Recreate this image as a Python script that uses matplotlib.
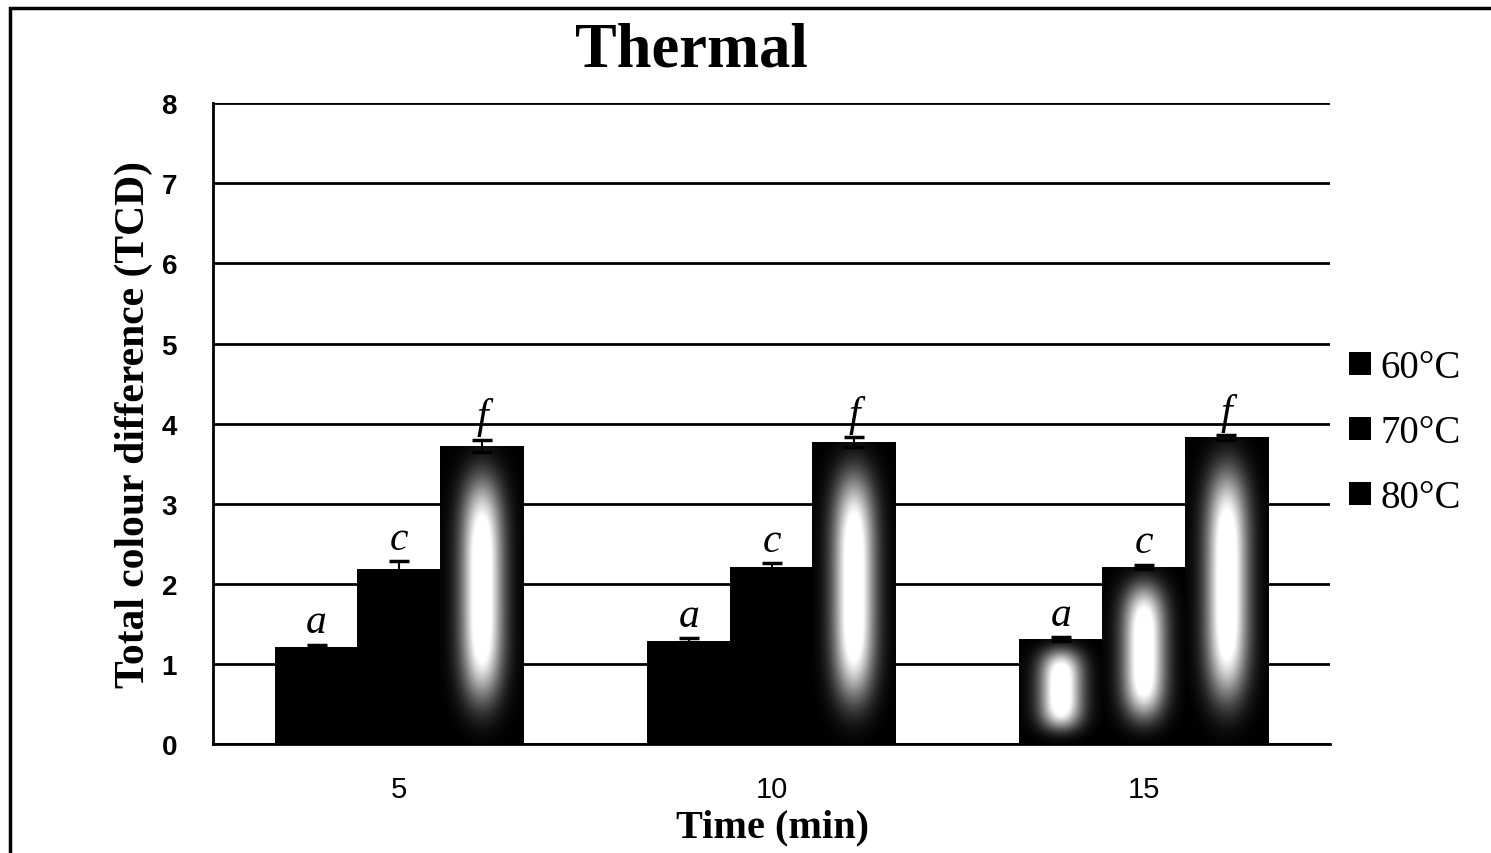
import matplotlib
matplotlib.use('Agg')
from matplotlib import pyplot as plt
from matplotlib.patches import Rectangle
import numpy as np

times = ['5', '10', '15']
temps = ['60°C', '70°C', '80°C']
tcd = {
    '60°C': [1.21, 1.29, 1.31],
    '70°C': [2.18, 2.21, 2.21],
    '80°C': [3.72, 3.77, 3.83],
}
tcd_err = {
    '60°C': [0.03, 0.03, 0.02],
    '70°C': [0.10, 0.05, 0.03],
    '80°C': [0.08, 0.06, 0.03],
}
letters = {'60°C': 'a', '70°C': 'c', '80°C': 'f'}

# which bars have the light patch in the middle (scan shading)
shaded = {
    '60°C': [False, False, True],
    '70°C': [False, False, True],
    '80°C': [True, True, True],
}


def shade(ax, bar):
    x0, y0 = bar.get_x(), bar.get_y()
    w, h = bar.get_width(), bar.get_height()
    ny, nx = 200, 60
    yy, xx = np.mgrid[0:1:ny * 1j, 0:1:nx * 1j]
    g = np.exp(-((xx - 0.5) / 0.3) ** 2 - ((yy - 0.52) / 0.4) ** 4)
    light = np.clip(g * 1.15, 0, 1) ** 1.5
    im = ax.imshow(light, cmap='gray', vmin=0, vmax=1, origin='lower',
                   extent=(x0, x0 + w, y0, y0 + h), aspect='auto',
                   interpolation='bilinear', zorder=3)
    im.set_clip_path(bar)


fig = plt.figure(figsize=(14.91, 8.54), dpi=100)
ax = fig.add_axes([0.143, 0.1276, 0.749, 0.7504])

x = np.arange(len(times))
width = 0.225
offsets = [-0.222, 0.0, 0.222]
for temp, off in zip(temps, offsets):
    bars = ax.bar(x + off, tcd[temp], width, color='black', label=temp,
                  zorder=2)
    ax.errorbar(x + off, tcd[temp], yerr=tcd_err[temp], fmt='none',
                ecolor='black', elinewidth=1.5, capsize=7, capthick=2.5,
                zorder=4)
    for i, b in enumerate(bars):
        if shaded[temp][i]:
            shade(ax, b)
        ax.text(b.get_x() + b.get_width() / 2,
                tcd[temp][i] + tcd_err[temp][i] + 0.04, letters[temp],
                ha='center', va='bottom', fontsize=30, style='italic',
                family='Liberation Serif', zorder=5)

ax.set_xlim(-0.5, 2.5)
ax.set_ylim(0, 8)
ax.set_yticks(range(0, 9))
ax.set_xticks(x)
ax.set_xticklabels(times, fontsize=21, family='Liberation Sans')
for lab in ax.get_yticklabels():
    lab.set_fontsize(20)
    lab.set_fontweight('bold')
    lab.set_family('Liberation Sans')
ax.tick_params(axis='y', length=0, pad=26)
ax.tick_params(axis='x', length=0, pad=22)
ax.grid(axis='y', color='black', linewidth=2, zorder=0)
ax.set_axisbelow(True)
for s in ['top', 'right']:
    ax.spines[s].set_visible(False)
ax.spines['left'].set_linewidth(2)
ax.spines['bottom'].set_linewidth(2)

ax.set_ylabel('Total colour difference (TCD)', fontsize=30,
              fontweight='bold', family='Liberation Serif', labelpad=6)
fig.text(0.518, 0.03, 'Time (min)', ha='center', va='center', fontsize=29,
         fontweight='bold', family='Liberation Serif')
fig.text(0.4635, 0.94, 'Thermal', ha='center', va='center', fontsize=45,
         fontweight='bold', family='Liberation Serif')

leg = ax.legend(loc='center left', bbox_to_anchor=(1.0, 0.486), frameon=False,
                prop={'family': 'Liberation Serif', 'size': 28},
                handlelength=0.55, handleheight=0.55, handletextpad=0.25,
                labelspacing=0.72, borderaxespad=0.1)

# outer frame
fig.patches.append(Rectangle((0.007, -0.01), 1.0, 1.0, transform=fig.transFigure,
                             fill=False, edgecolor='black', linewidth=2.5))

fig.savefig('out.png', dpi=100)
